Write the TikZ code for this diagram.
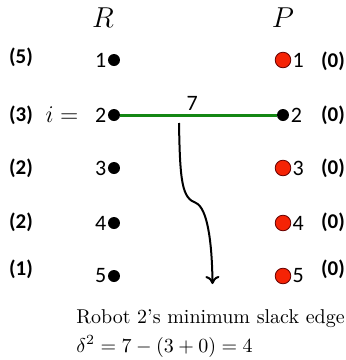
\documentclass[tikz,border=0pt]{standalone}
\usepackage{amsmath,amssymb}
\usepackage{fontspec}
\newfontfamily\calibri{Carlito}
\usepackage{xcolor}
\usepackage{tikz}
\usetikzlibrary{arrows.meta,positioning}

\definecolor{edgegreen}{RGB}{20,135,20}
\definecolor{placered}{RGB}{245,35,5}

\begin{document}
\begin{tikzpicture}[
  x=0.5pt, y=-0.5pt,
  robot/.style={circle, fill=black, inner sep=0pt, minimum size=6pt},
  task/.style={circle, draw=red!40!black, fill=placered, inner sep=0pt, minimum size=7.8pt},
  idx/.style={font=\calibri\fontsize{11}{13}\selectfont, inner sep=0.5pt},
  price/.style={font=\calibri\bfseries\fontsize{10.5}{12}\selectfont},
  edge/.style={draw=edgegreen, line width=1.5pt},
  arr/.style={-{To[length=4pt,width=7pt]}, line width=1pt}
]
  \useasboundingbox (0,0) rectangle (346,360);

  % column headers
  \node[font=\Large] (hR) at (103,18) {$R$};
  \node[font=\Large] (hP) at (283,18) {$P$};

  % robots
  \node[robot] (r1) at (114,60) {};
  \node[robot] (r2) at (114,115) {};
  \node[robot] (r3) at (114,168) {};
  \node[robot] (r4) at (114,223) {};
  \node[robot] (r5) at (114,276) {};
  \node[idx, left=0pt of r1] {1};
  \node[idx, left=0pt of r2] (n2) {2};
  \node[idx, left=0pt of r3] {3};
  \node[idx, left=0pt of r4] {4};
  \node[idx, left=0pt of r5] {5};

  % tasks
  \node[task] (p1) at (283,60) {};
  \node[robot] (p2) at (283,115) {};
  \node[task] (p3) at (283,168) {};
  \node[task] (p4) at (283,223) {};
  \node[task] (p5) at (283,276) {};
  \node[idx, right=0pt of p1] {1};
  \node[idx, right=0pt of p2] {2};
  \node[idx, right=0pt of p3] {3};
  \node[idx, right=0pt of p4] {4};
  \node[idx, right=0pt of p5] {5};

  % prices
  \node[price] (u1) at (21,57) {(5)};
  \node[price] (u2) at (21,115) {(3)};
  \node[price] (u3) at (21,168) {(2)};
  \node[price] (u4) at (21,222) {(2)};
  \node[price] (u5) at (21,269) {(1)};
  \node[price] (v1) at (333,61) {(0)};
  \node[price] (v2) at (333,115) {(0)};
  \node[price] (v3) at (333,168) {(0)};
  \node[price] (v4) at (333,222) {(0)};
  \node[price] (v5) at (333,269) {(0)};

  \node[font=\large] (ieq) at (62,115) {$i=$};

  % edge + pointer
  \draw[edge] (r2) -- node[idx, above=1pt, pos=0.46] (w) {7} (p2);
  \coordinate (s) at (179,123);
  \coordinate (k) at (196,203);
  \coordinate (t) at (212.5,284);
  \draw[arr] (s) .. controls (180,182) and (182,198) .. (k)
                 .. controls (207,208) and (212,240) .. (t);

  % caption
  \node[anchor=base west, inner sep=0pt] (cap) at (76,323)
    {Robot 2's minimum slack edge};
  \node[anchor=base west, inner sep=0pt] (slack) at (76,352)
    {$\delta^2 = 7-(3+0)=4$};
\end{tikzpicture}
\end{document}
